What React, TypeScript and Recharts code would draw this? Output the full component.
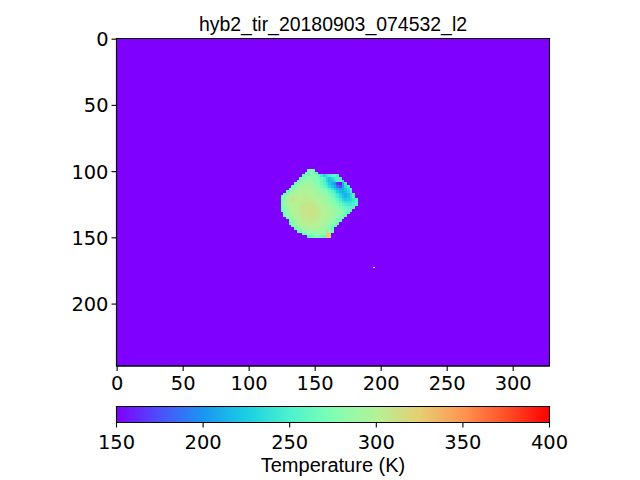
import React from 'react';
import { ScatterChart, Scatter, XAxis, YAxis, ReferenceArea } from 'recharts';

const titleText = 'hyb2_tir_20180903_074532_l2';
const colorbarLabel = 'Temperature (K)';
const imageXTicks = [0, 50, 100, 150, 200, 250, 300];
const imageYTicks = [0, 50, 100, 150, 200];
const colorbarTicks = [150, 200, 250, 300, 350, 400];
const coldTemperature = 150;
const hotTemperature = 400;
const rainbowStops = ['#8000ff', '#4d4ffc', '#1a96f2', '#1acee3', '#4df2ce', '#80ffb4', '#b3f296', '#e6ce74', '#ff964f', '#ff4f28', '#ff0000'];

const rowY = [98, 100, 102, 104, 106, 108, 110, 112, 114, 116, 118, 120, 122, 124, 126, 128, 130, 132, 134, 136, 138, 140, 142, 144, 146, 148];
const rowStartX = [144, 142, 140, 138, 136, 134, 132, 130, 128, 126, 124, 124, 124, 124, 124, 124, 126, 126, 128, 130, 130, 132, 134, 136, 140, 144];
const rowTemps = [
  [268, 272, 268],
  [266, 272, 276, 272, 265],
  [266, 272, 278, 278, 276, 272, 262, 245, 232, 240, 250, 258, 262, 250],
  [268, 274, 280, 283, 282, 280, 276, 270, 262, 250, 232, 222, 232, 245, 255, 250],
  [268, 276, 283, 286, 286, 284, 282, 278, 272, 262, 250, 232, 220, 222, 236, 250, 258, 240],
  [270, 278, 285, 289, 290, 290, 288, 285, 280, 274, 266, 255, 240, 225, 212, 200, 165, 155, 215, 245],
  [268, 278, 286, 292, 295, 296, 295, 292, 288, 284, 280, 272, 262, 250, 235, 222, 210, 190, 175, 205, 235, 250],
  [268, 278, 288, 294, 297, 299, 298, 296, 295, 292, 288, 284, 280, 274, 265, 252, 240, 226, 215, 208, 212, 225, 240, 250],
  [268, 276, 286, 293, 297, 299, 300, 300, 299, 297, 295, 292, 288, 284, 280, 274, 266, 255, 242, 228, 216, 212, 218, 232, 248],
  [268, 276, 288, 295, 298, 300, 301, 302, 302, 300, 299, 297, 295, 292, 288, 284, 280, 274, 266, 255, 242, 228, 216, 212, 220, 235, 250],
  [268, 278, 292, 300, 304, 303, 301, 301, 303, 303, 302, 300, 298, 296, 294, 292, 288, 284, 278, 270, 260, 248, 234, 220, 214, 222, 238, 252],
  [270, 282, 296, 302, 308, 305, 301, 302, 303, 304, 304, 303, 301, 299, 297, 295, 292, 288, 282, 276, 268, 258, 246, 232, 224, 228, 232, 240, 252],
  [272, 288, 298, 302, 305, 303, 301, 303, 304, 306, 306, 305, 303, 301, 299, 297, 294, 291, 286, 280, 274, 266, 256, 244, 236, 236, 240, 246, 255],
  [272, 286, 296, 300, 301, 301, 303, 304, 306, 308, 308, 308, 306, 304, 301, 299, 296, 293, 290, 284, 278, 272, 264, 256, 250, 246, 246, 250, 256],
  [270, 280, 291, 297, 300, 301, 303, 304, 308, 310, 310, 310, 308, 306, 304, 301, 299, 296, 293, 290, 285, 280, 274, 268, 262, 258, 255, 258],
  [268, 276, 287, 294, 298, 301, 303, 306, 308, 310, 312, 312, 310, 308, 306, 303, 300, 298, 295, 292, 288, 284, 280, 274, 268, 262, 258],
  [272, 283, 292, 297, 300, 303, 306, 308, 310, 312, 312, 310, 308, 306, 303, 300, 298, 296, 293, 289, 285, 280, 275, 268, 262],
  [268, 279, 288, 294, 298, 301, 305, 306, 308, 310, 310, 310, 308, 306, 303, 300, 298, 296, 293, 288, 284, 278, 270, 264],
  [272, 283, 290, 297, 300, 303, 305, 306, 308, 308, 308, 306, 305, 301, 299, 296, 294, 290, 286, 280, 272, 266],
  [270, 281, 290, 297, 301, 305, 306, 306, 306, 306, 305, 303, 300, 297, 295, 292, 288, 282, 274, 266],
  [264, 276, 287, 294, 298, 301, 303, 305, 305, 303, 301, 300, 297, 295, 292, 288, 282, 272, 264],
  [268, 280, 289, 294, 297, 298, 300, 300, 300, 298, 297, 295, 292, 288, 280, 272, 264],
  [266, 278, 285, 289, 292, 294, 296, 296, 296, 295, 292, 288, 282, 274, 266],
  [262, 272, 280, 285, 287, 289, 291, 291, 290, 288, 286, 322, 282, 268],
  [262, 272, 278, 282, 284, 284, 284, 284, 284, 328, 328],
  [258, 264, 270, 272, 270, 268, 262, 326, 326],
];
const strayPixel = [{ x: 194, y: 172 }];

const blobCells = rowY.flatMap((y, r) => rowTemps[r].map((t, c) => ({ x: rowStartX[r] + c * 2, y, t })));
const colorbarPoints = colorbarTicks.map((t) => ({ t, v: 0.5 }));

const hexChannel = (hex: string, i: number) => parseInt(hex.slice(1 + i * 2, 3 + i * 2), 16);
function tempColor(t: number) {
  const f = Math.min(1, Math.max(0, (t - coldTemperature) / (hotTemperature - coldTemperature))) * (rainbowStops.length - 1);
  const i = Math.min(rainbowStops.length - 2, Math.floor(f));
  const w = f - i;
  const ch = [0, 1, 2].map((k) => Math.round(hexChannel(rainbowStops[i], k) * (1 - w) + hexChannel(rainbowStops[i + 1], k) * w));
  return `rgb(${ch[0]},${ch[1]},${ch[2]})`;
}

const TEXT_FONT = '"Liberation Sans", Arial, sans-serif';
const TICK_FONT = '"DejaVu Sans", sans-serif';
const tickStyle = { fontSize: 19.44, fontFamily: TICK_FONT, fill: '#000' };
const black = { stroke: '#000', strokeWidth: 1.1 };
const PURPLE = '#8000ff';
const plotLeft = 116.5;
const plotRight = 549.5;
const plotTop = 38.5;
const plotBottom = 366;
const pxPerUnit = (plotRight - plotLeft) / 328;

const BlobCell = (p: any) => (
  <rect x={p.cx} y={p.cy} width={2 * pxPerUnit + 0.2} height={2 * pxPerUnit + 0.2} fill={tempColor(p.payload.t)} shapeRendering="crispEdges" />
);
const StrayCell = (p: any) => (
  <rect x={p.cx} y={p.cy} width={1.3} height={1.3} fill="#ffffff" shapeRendering="crispEdges" />
);
const NoMark = () => null;

const textBox = (top: number, fontSize: number): React.CSSProperties => ({
  position: 'absolute', left: plotLeft - 100, width: plotRight - plotLeft + 200, top, textAlign: 'center',
  fontFamily: TEXT_FONT, fontSize, lineHeight: '20px', color: '#000', whiteSpace: 'nowrap',
});

export default function App() {
  const mainH = 410;
  const xAxisH = 40;
  return (
    <div style={{ position: 'absolute', left: 0, top: 0, width: 640, height: 480, background: '#fff', overflow: 'hidden' }}>
      <div style={textBox(14, 19.44)}>{titleText}</div>
      <div style={{ position: 'absolute', left: 0, top: 0 }}>
        <ScatterChart width={640} height={mainH} margin={{ left: 0, top: plotTop, right: 640 - plotRight, bottom: mainH - plotBottom - xAxisH }}>
          <XAxis type="number" dataKey="x" domain={[-0.5, 327.5]} ticks={imageXTicks} height={xAxisH} allowDataOverflow interval={0}
            tick={tickStyle} tickSize={5} tickMargin={5} axisLine={black} tickLine={black} />
          <YAxis type="number" dataKey="y" domain={[-0.5, 246.75]} reversed ticks={imageYTicks} width={plotLeft} allowDataOverflow interval={0}
            tick={tickStyle} tickSize={5} tickMargin={3} axisLine={black} tickLine={black} />
          <ReferenceArea x1={-0.5} x2={327.5} y1={-0.5} y2={246.75} fill={PURPLE} fillOpacity={1} stroke="none" />
          <Scatter data={blobCells} shape={BlobCell} isAnimationActive={false} />
          <Scatter data={strayPixel} shape={StrayCell} isAnimationActive={false} />
          <ReferenceArea x1={-0.5} x2={327.5} y1={-0.5} y2={246.75} fill="none" stroke="#000" strokeWidth={1.1} />
        </ScatterChart>
      </div>
      <div style={{ position: 'absolute', left: 0, top: 400 }}>
        <ScatterChart width={640} height={70} margin={{ left: plotLeft, top: 6.5, right: 640 - plotRight, bottom: 70 - 22.5 - 34 }}>
          <defs>
            <linearGradient id="rainbowBar" x1="0" y1="0" x2="1" y2="0">
              {rainbowStops.map((c, i) => (
                <stop key={c} offset={i / (rainbowStops.length - 1)} stopColor={c} />
              ))}
            </linearGradient>
          </defs>
          <XAxis type="number" dataKey="t" domain={[coldTemperature, hotTemperature]} ticks={colorbarTicks} height={34} interval={0}
            tick={tickStyle} tickSize={5} tickMargin={8} axisLine={black} tickLine={black} />
          <YAxis type="number" dataKey="v" domain={[0, 1]} hide />
          <ReferenceArea x1={coldTemperature} x2={hotTemperature} y1={0} y2={1} fill="url(#rainbowBar)" fillOpacity={1} stroke="#000" strokeWidth={1.1} />
          <Scatter data={colorbarPoints} shape={NoMark} isAnimationActive={false} />
        </ScatterChart>
      </div>
      <div style={textBox(455, 20)}>{colorbarLabel}</div>
    </div>
  );
}
